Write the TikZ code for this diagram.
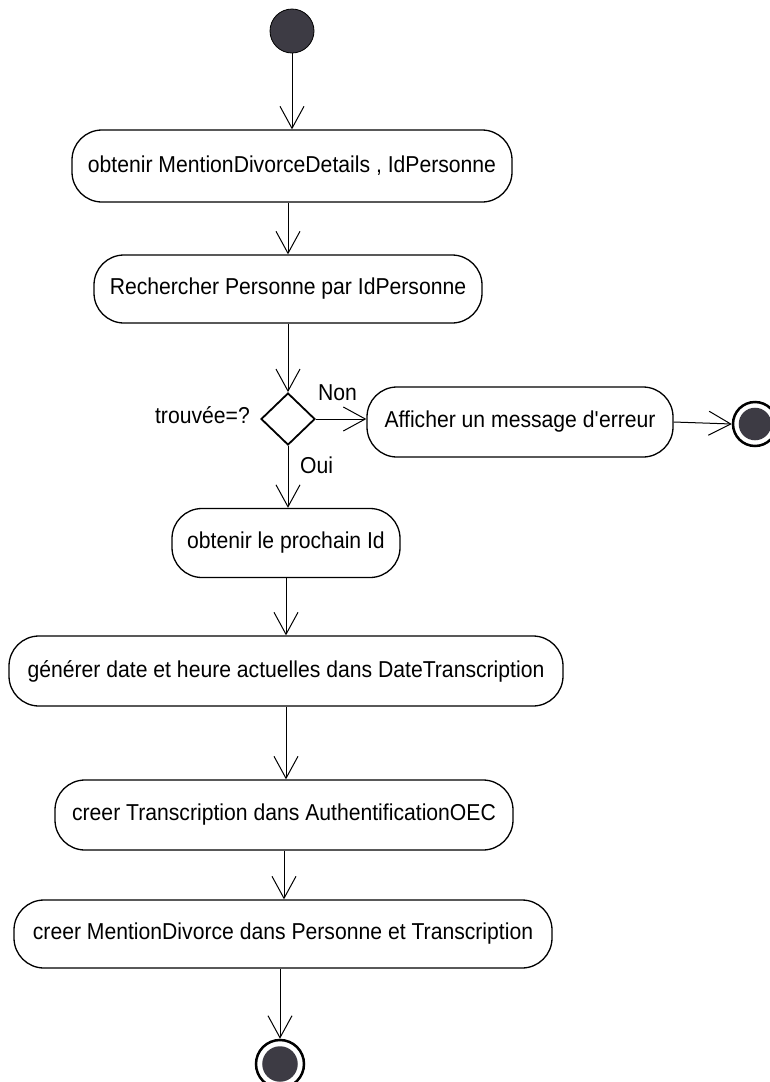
\documentclass[tikz,border=0pt]{standalone}
\usepackage{fontspec}
\setmainfont{Liberation Sans}[FakeStretch=0.92]
\usetikzlibrary{arrows.meta,shapes.geometric}
\definecolor{dotfill}{HTML}{3D3B44}
\begin{document}
\begin{tikzpicture}[x=1pt,y=-1pt,
  act/.style={draw=black, line width=1.3pt, rounded corners=30pt, fill=white,
    align=center, inner sep=0pt, font=\fontsize{23}{27}\selectfont},
  lbl/.style={inner sep=0pt, font=\fontsize{23}{27}\selectfont},
  flow/.style={draw=black, line width=1pt, -{Straight Barb[length=22pt,width=24pt]}},
  initnode/.style={circle, fill=dotfill, draw=black, line width=0.8pt,
    minimum size=44pt, inner sep=0pt},
  finalnode/.style={circle, draw=black, line width=2.5pt, fill=white,
    minimum size=#1, inner sep=0pt,
    path picture={\fill[dotfill] (path picture bounding box.center) circle (0.37*#1);}},
  choice/.style={diamond, draw=black, line width=1.8pt, fill=white,
    minimum width=54pt, minimum height=52pt, inner sep=0pt}
]
\useasboundingbox (0,0) rectangle (770,1082);

\node[initnode] (start) at (292,31) {};
\node[act, minimum width=440pt, minimum height=72pt] (b1) at (292,166)
  {obtenir MentionDivorceDetails , IdPersonne};
\node[act, minimum width=388pt, minimum height=68pt] (b2) at (288,289)
  {Rechercher Personne par IdPersonne};
\node[choice] (d) at (288,419) {};
\node[act, minimum width=306pt, minimum height=70pt] (err) at (520,422)
  {Afficher un message d\textquotesingle erreur};
\node[finalnode=44pt] (enderr) at (755,424) {};
\node[act, minimum width=228pt, minimum height=69pt] (b3) at (286,543)
  {obtenir le prochain Id};
\node[act, minimum width=554pt, minimum height=70pt] (b4) at (286,671)
  {générer date et heure actuelles dans DateTranscription};
\node[act, minimum width=458pt, minimum height=70pt] (b5) at (284,815)
  {creer Transcription dans AuthentificationOEC};
\node[act, minimum width=538pt, minimum height=68pt] (b6) at (283,934)
  {creer MentionDivorce dans Personne et Transcription};
\node[finalnode=48pt] (end) at (280,1064) {};

\node[lbl, anchor=base east] (lq) at (250,423) {trouvée=?};
\node[lbl, anchor=base west] (lnon) at (318,400) {Non};
\node[lbl, anchor=base west] (loui) at (300,473) {Oui};

\draw[flow] (start.south) -- (b1.north);
\draw[flow] (b2.north |- b1.south) -- (b2.north);
\draw[flow] (b2.south) -- (d.north);
\draw[flow] (d.east) -- (d.east -| err.west);
\draw[flow] (err.east) -- (enderr.west);
\draw[flow] (d.south) -- (d.south |- b3.north);
\draw[flow] (b3.south) -- (b3.south |- b4.north);
\draw[flow] (b4.south) -- (b4.south |- b5.north);
\draw[flow] (b5.south) -- (b5.south |- b6.north);
\draw[flow] (b6.south -| end.north) -- (end.north);
\end{tikzpicture}
\end{document}
